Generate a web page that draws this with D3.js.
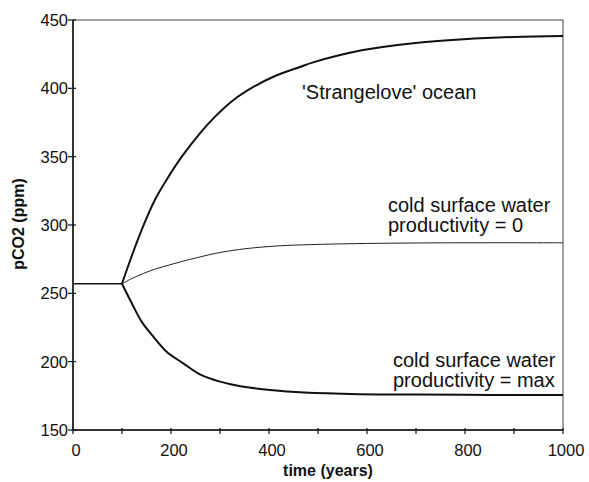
<!DOCTYPE html>
<html>
<head>
<meta charset="utf-8">
<script src="https://cdn.jsdelivr.net/npm/d3@7"></script>
<style>
  html, body { margin: 0; padding: 0; background: #fff; }
  svg { display: block; font-family: "Liberation Sans", Arial, Helvetica, sans-serif; }
</style>
</head>
<body>
<svg id="chart" width="589" height="482"></svg>
<script>
// ---- data ----
const xTicks = [0, 100, 200, 300, 400, 500, 600, 700, 800, 900, 1000];
const xTickLabels = [0, 200, 400, 600, 800, 1000];
const yTicks = [150, 200, 250, 300, 350, 400, 450];

const baselineTime = [0, 100];
const baselineValue = [257, 257];

const strangeloveTime  = [100, 118, 140, 167, 195, 222, 259, 290, 327, 368, 409, 463, 490, 592, 694, 797, 899, 1000];
const strangeloveValue = [257, 275.5, 296.3, 318.3, 335.4, 350, 367.1, 379.3, 391.3, 401.0, 408.5, 415.6, 419.0, 428, 433, 435.9, 437.6, 438.3];

const prodZeroTime  = [100, 120, 144, 170, 198, 225, 250, 286, 320, 361, 410, 463, 550, 650, 800, 1000];
const prodZeroValue = [257, 260.8, 264.6, 268, 270.9, 273.6, 275.8, 278.9, 281.1, 283, 284.5, 285.4, 286.2, 286.7, 287, 287];

const prodMaxTime  = [100, 120, 140, 164, 191, 225, 259, 300, 348, 409, 463, 565, 700, 850, 1000];
const prodMaxValue = [257, 242.7, 229.3, 218.3, 207.3, 198.8, 190.7, 185.4, 181.7, 179.1, 177.6, 176.4, 175.9, 175.7, 175.6];

const labelStrangelove = ["'Strangelove' ocean"];
const labelProdZero = ["cold surface water", "productivity = 0"];
const labelProdMax = ["cold surface water", "productivity = max"];

// ---- layout ----
const svg = d3.select("#chart");
const pL = 73, pR = 563, pT = 20, pB = 430;

const x = d3.scaleLinear().domain([0, 1000]).range([pL, pR]);
const y = d3.scaleLinear().domain([150, 450]).range([pB, pT]);

// frame (top / right)
svg.append("rect")
  .attr("x", pL).attr("y", pT)
  .attr("width", pR - pL).attr("height", pB - pT)
  .attr("fill", "none").attr("stroke", "#444").attr("stroke-width", 1);

// left axis line
svg.append("line").attr("x1", pL).attr("x2", pL).attr("y1", pT).attr("y2", pB)
  .attr("stroke", "#111").attr("stroke-width", 1.5);
// bottom axis line
svg.append("line").attr("x1", pL).attr("x2", pR).attr("y1", pB).attr("y2", pB)
  .attr("stroke", "#111").attr("stroke-width", 1.5);

// y ticks (crossing)
svg.selectAll(".yt").data(yTicks).enter().append("line")
  .attr("x1", pL - 5).attr("x2", pL + 3)
  .attr("y1", d => y(d)).attr("y2", d => y(d))
  .attr("stroke", "#111").attr("stroke-width", 1.2);
svg.selectAll(".yl").data(yTicks).enter().append("text")
  .attr("x", pL - 5).attr("y", d => y(d) + 6)
  .attr("text-anchor", "end").attr("font-size", "16.5px").attr("fill", "#111")
  .text(d => d);

// x ticks (crossing)
svg.selectAll(".xt").data(xTicks).enter().append("line")
  .attr("x1", d => x(d)).attr("x2", d => x(d))
  .attr("y1", pB - 2).attr("y2", pB + 4)
  .attr("stroke", "#111").attr("stroke-width", 1.2);
svg.selectAll(".xl").data(xTickLabels).enter().append("text")
  .attr("x", d => x(d) + 3).attr("y", 456)
  .attr("text-anchor", "middle").attr("font-size", "16.5px").attr("fill", "#111")
  .text(d => d);

// axis titles
svg.append("text")
  .attr("x", 328).attr("y", 476)
  .attr("text-anchor", "middle").attr("font-size", "16px").attr("font-weight", "bold")
  .attr("fill", "#111").text("time (years)");
svg.append("text")
  .attr("transform", "translate(24," + 224 + ") rotate(-90)")
  .attr("text-anchor", "middle").attr("font-size", "16px").attr("font-weight", "bold")
  .attr("fill", "#111").text("pCO2 (ppm)");

// lines
const line = d3.line().x(d => x(d[0])).y(d => y(d[1])).curve(d3.curveCatmullRom.alpha(0.5));
const zip = (a, b) => a.map((t, i) => [t, b[i]]);

svg.append("path").datum(zip(baselineTime, baselineValue))
  .attr("d", line).attr("fill", "none").attr("stroke", "#111").attr("stroke-width", 1.5);
svg.append("path").datum(zip(strangeloveTime, strangeloveValue))
  .attr("d", line).attr("fill", "none").attr("stroke", "#111").attr("stroke-width", 2);
svg.append("path").datum(zip(prodZeroTime, prodZeroValue))
  .attr("d", line).attr("fill", "none").attr("stroke", "#222").attr("stroke-width", 1);
svg.append("path").datum(zip(prodMaxTime, prodMaxValue))
  .attr("d", line).attr("fill", "none").attr("stroke", "#111").attr("stroke-width", 2);

// annotations
function label(lines, x0, y0) {
  const t = svg.append("text").attr("font-size", "20px").attr("fill", "#111");
  lines.forEach((s, i) => {
    t.append("tspan").attr("x", x0).attr("y", y0 + i * 20.5).text(s);
  });
}
label(labelStrangelove, 302, 99);
label(labelProdZero, 388, 211.5);
label(labelProdMax, 393, 366.5);
</script>
</body>
</html>
